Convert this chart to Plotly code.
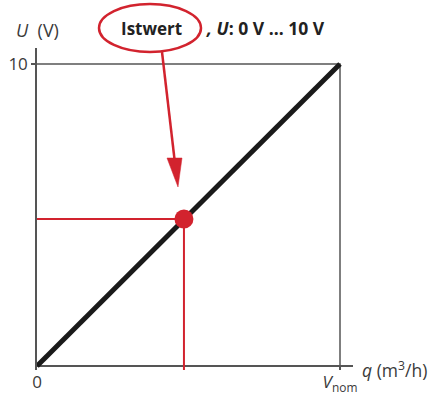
import plotly.graph_objects as go

# data
line_x = [0, 1]
line_y = [0, 10]
point_x = [0.485]
point_y = [4.87]
x_tickvals = [0, 1]
x_ticktext = ["0", "<i>V</i><sub>nom</sub>"]
y_tickvals = [10]
y_ticktext = ["10"]

RED = "#d2232e"
GRAY = "#555555"
TXT = "#3a3a3a"
FONT = "Open Sans"

fig = go.Figure()

# box top and right lines
fig.add_trace(go.Scatter(x=[0, 1, 1], y=[10, 10, 0], mode="lines",
                         line=dict(color=GRAY, width=1.5), hoverinfo="skip"))
# red guide lines
fig.add_trace(go.Scatter(x=[0, point_x[0]], y=[point_y[0], point_y[0]], mode="lines",
                         line=dict(color=RED, width=2), hoverinfo="skip"))
fig.add_trace(go.Scatter(x=[point_x[0], point_x[0]], y=[-1, point_y[0]], mode="lines",
                         line=dict(color=RED, width=2), hoverinfo="skip"))
# characteristic line
fig.add_trace(go.Scatter(x=line_x, y=line_y, mode="lines",
                         line=dict(color="#1a1a1a", width=5), hoverinfo="skip"))
# point
fig.add_trace(go.Scatter(x=point_x, y=point_y, mode="markers",
                         marker=dict(color=RED, size=19), hoverinfo="skip"))

def px(x):
    return (x - 37) / 316

def py(y):
    return (370 - y) / 322

shapes = [
    dict(type="circle", xref="paper", yref="paper",
         x0=px(99), x1=px(201), y0=py(52), y1=py(4),
         line=dict(color=RED, width=2.5)),
    dict(type="line", xref="paper", yref="paper",
         x0=px(162), y0=py(52), x1=px(174.6), y1=py(160),
         line=dict(color=RED, width=2.5)),
    dict(type="path", xref="paper", yref="paper",
         path=f"M {px(167)} {py(158)} L {px(182)} {py(158)} L {px(178)} {py(187)} Z",
         fillcolor=RED, line=dict(color=RED, width=0.5)),
]

annotations = [
    dict(text="<i>U</i>  (V)", xref="paper", yref="paper", x=px(14), y=py(30),
         xanchor="left", yanchor="middle", showarrow=False,
         font=dict(size=18, color=TXT, family=FONT)),
    dict(text="<b>Istwert</b>", xref="paper", yref="paper", x=px(151), y=py(28),
         xanchor="center", yanchor="middle", showarrow=False,
         font=dict(size=17, color="#222", family=FONT)),
    dict(text="<b><i>, U</i>: 0 V ... 10 V</b>", xref="paper", yref="paper", x=px(204), y=py(28),
         xanchor="left", yanchor="middle", showarrow=False,
         font=dict(size=17.5, color="#222", family=FONT)),
    dict(text="<i>q</i> (m<sup>3</sup>/h)", xref="paper", yref="paper", x=px(360), y=py(369),
         xanchor="left", yanchor="middle", showarrow=False,
         font=dict(size=17.5, color=TXT, family=FONT)),
]

fig.update_layout(
    width=433, height=396,
    margin=dict(l=37, r=80, t=48, b=26),
    paper_bgcolor="white", plot_bgcolor="white",
    showlegend=False,
    shapes=shapes, annotations=annotations,
    font=dict(family=FONT, size=16, color=TXT),
    xaxis=dict(range=[0, 316 / 303], tickvals=x_tickvals, ticktext=x_ticktext,
               ticks="inside", ticklen=4, tickwidth=1.5, tickcolor=GRAY,
               showline=False, showgrid=False, zeroline=False, automargin=False,
               tickfont=dict(size=17, color=TXT, family=FONT), fixedrange=True),
    yaxis=dict(range=[-4 / 30.2, 318 / 30.2], tickvals=y_tickvals, ticktext=y_ticktext,
               ticks="outside", ticklen=4, tickwidth=1.5, tickcolor=GRAY,
               showline=True, linecolor=GRAY, linewidth=1.5, automargin=False,
               showgrid=False, zeroline=True, zerolinecolor=GRAY, zerolinewidth=1.5,
               tickfont=dict(size=17, color=TXT, family=FONT), fixedrange=True),
)

fig.write_html("out.html", config={"displayModeBar": False},
               post_script="document.body.style.margin='0';document.body.style.overflow='hidden';")
